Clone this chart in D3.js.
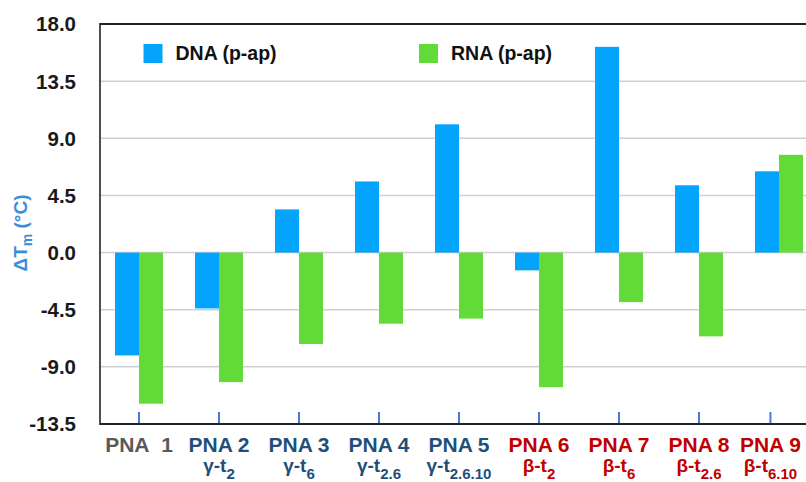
<!DOCTYPE html>
<html><head><meta charset="utf-8">
<script src="https://cdn.jsdelivr.net/npm/d3@7"></script>
<style>
html,body{margin:0;padding:0;background:#fff;}
text{font-family:"Liberation Sans",Arial,Helvetica,sans-serif;font-weight:bold;}
</style></head>
<body>
<svg id="c" width="806" height="482"></svg>
<script>
// ---- data ----
const categories = ["PNA 1","PNA 2","PNA 3","PNA 4","PNA 5","PNA 6","PNA 7","PNA 8","PNA 9"];
const labelLine1 = ["PNA\u00a0 1","PNA 2","PNA 3","PNA 4","PNA 5","PNA 6","PNA 7","PNA 8","PNA 9"];
const labelPrefix = ["","γ-t","γ-t","γ-t","γ-t","β-t","β-t","β-t","β-t"];
const labelSub = ["","2","6","2.6","2.6.10","2","6","2.6","6.10"];
const labelGroup = ["gray","blue","blue","blue","blue","red","red","red","red"];
const dnaValues = [-8.1, -4.4, 3.4, 5.6, 10.1, -1.4, 16.2, 5.3, 6.4];
const rnaValues = [-11.9, -10.2, -7.2, -5.6, -5.2, -10.6, -3.9, -6.6, 7.7];
const seriesNames = ["DNA (p-ap)","RNA (p-ap)"];
const yTicks = [18.0, 13.5, 9.0, 4.5, 0.0, -4.5, -9.0, -13.5];

const colors = {dna:"#03a3fe", rna:"#62da38"};
const labelColors = {gray:"#595959", blue:"#1f4e79", red:"#c00000"};

const svg = d3.select("#c");
const W = 806, H = 482;
const mLeft = 100, mTop = 24, mBottom = 424;

const y = d3.scaleLinear().domain([-13.5, 18]).range([mBottom, mTop]);
const x = d3.scaleBand().domain(categories).range([99, 819]).paddingInner(0.4).paddingOuter(0.2);
const xs = d3.scaleBand().domain(["dna","rna"]).range([0, x.bandwidth()]);

// gridlines
svg.append("g").selectAll("line").data(yTicks.filter(t => t !== 18 && t !== -13.5)).join("line")
  .attr("x1", mLeft).attr("x2", W).attr("y1", d => y(d)).attr("y2", d => y(d))
  .attr("stroke", "#cfcfcf").attr("stroke-width", 1.5);

// bars
const g = svg.append("g");
const rows = categories.map((c, i) => ({c, dna: dnaValues[i], rna: rnaValues[i]}));
["dna","rna"].forEach(k => {
  g.selectAll("rect." + k).data(rows).join("rect").attr("class", k)
    .attr("x", d => x(d.c) + xs(k))
    .attr("width", xs.bandwidth())
    .attr("y", d => y(Math.max(0, d[k])))
    .attr("height", d => Math.abs(y(d[k]) - y(0)))
    .attr("fill", colors[k]);
});

// frame: left, top, bottom
svg.append("line").attr("x1", mLeft).attr("x2", mLeft).attr("y1", mTop - 1).attr("y2", mBottom + 1)
  .attr("stroke", "#222").attr("stroke-width", 1.6);
svg.append("line").attr("x1", mLeft).attr("x2", W).attr("y1", mTop).attr("y2", mTop)
  .attr("stroke", "#222").attr("stroke-width", 2);
svg.append("line").attr("x1", mLeft).attr("x2", W).attr("y1", mBottom).attr("y2", mBottom)
  .attr("stroke", "#222").attr("stroke-width", 2);

// y axis tick labels
svg.append("g").selectAll("text").data(yTicks).join("text")
  .attr("x", 76).attr("y", d => y(d)).attr("dy", "0.36em")
  .attr("text-anchor", "end").attr("font-size", 20.5).attr("fill", "#1a1a1a")
  .text(d => d.toFixed(1));

// y title
const yt = svg.append("text").attr("transform", "translate(27,233) rotate(-90)")
  .attr("text-anchor", "middle").attr("font-size", 19).attr("fill", "#3a8ddb");
yt.append("tspan").text("ΔT");
yt.append("tspan").attr("font-size", 14).attr("dy", 5).text("m");
yt.append("tspan").attr("dy", -5).text(" (°C)");

// x labels and ticks
const lbl = svg.append("g");
categories.forEach((c, i) => {
  let cx = x(c) + x.bandwidth() / 2;
  const t1 = lbl.append("text").attr("y", 452).attr("text-anchor", "middle")
    .attr("font-size", 21).attr("fill", labelColors[labelGroup[i]]).text(labelLine1[i]);
  t1.attr("x", cx);
  const w = t1.node().getComputedTextLength();
  if (cx + w / 2 > W - 5) cx = W - 5 - w / 2;
  t1.attr("x", cx);
  if (labelPrefix[i]) {
    const t2 = lbl.append("text").attr("x", cx).attr("y", 472).attr("text-anchor", "middle")
      .attr("font-size", 19).attr("fill", labelColors[labelGroup[i]]);
    t2.append("tspan").text(labelPrefix[i]);
    t2.append("tspan").attr("font-size", 15).attr("dy", 7).text(labelSub[i]);
  }
  lbl.append("line").attr("x1", cx).attr("x2", cx).attr("y1", 412).attr("y2", 423)
    .attr("stroke", "#4a78d4").attr("stroke-width", 2);
});

// legend
const legendX = [143.5, 419];
seriesNames.forEach((n, i) => {
  const k = i === 0 ? "dna" : "rna";
  svg.append("rect").attr("x", legendX[i]).attr("y", 44).attr("width", 19).attr("height", 19)
    .attr("fill", colors[k]);
  svg.append("text").attr("x", legendX[i] + 32).attr("y", 60).attr("font-size", 19.5)
    .attr("fill", "#111").text(n);
});
</script>
</body></html>
